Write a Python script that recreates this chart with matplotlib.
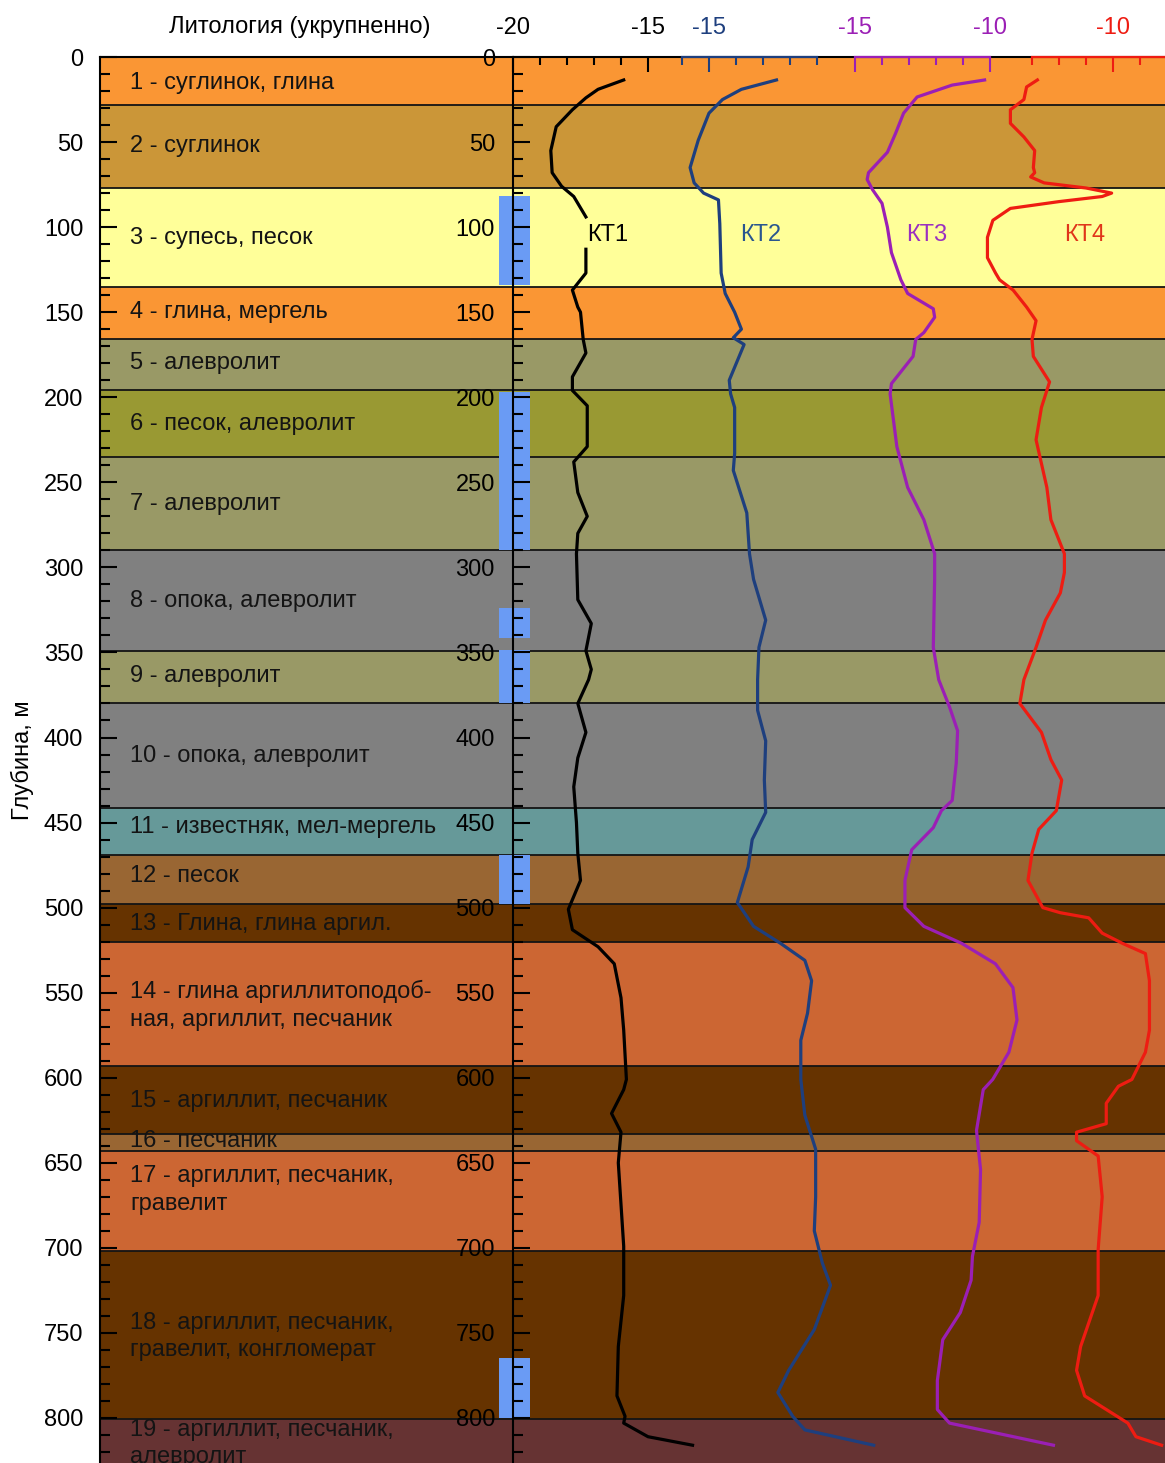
# Литологическая колонка и кривые КТ1-КТ4 по глубине

import numpy as np
import matplotlib.pyplot as plt
from matplotlib.patches import Rectangle
from matplotlib.ticker import MultipleLocator

plt.rcParams['font.family'] = ['Liberation Sans', 'DejaVu Sans']
plt.rcParams['axes.unicode_minus'] = False

# слои: границы (м), цвета и подписи
granitsy = [0, 28, 77, 135, 166, 196, 235, 290, 349, 380, 441.5, 469, 498, 520,
            593, 633, 643, 702, 800.5, 830]
tsveta = ['#FA9634', '#CB9638', '#FFFF99', '#FA9634', '#999966', '#999933',
          '#999966', '#808080', '#999966', '#808080', '#669999', '#996633',
          '#663300', '#CC6633', '#663300', '#996633', '#CC6633', '#663300',
          '#663333']
podpisi = ['1 - суглинок, глина', '2 - суглинок', '3 - супесь, песок',
           '4 - глина, мергель', '5 - алевролит', '6 - песок, алевролит',
           '7 - алевролит', '8 - опока, алевролит', '9 - алевролит',
           '10 - опока, алевролит', '11 - известняк, мел-мергель', '12 - песок',
           '13 - Глина, глина аргил.',
           '14 - глина аргиллитоподоб-\nная, аргиллит, песчаник',
           '15 - аргиллит, песчаник', '16 - песчаник',
           '17 - аргиллит, песчаник,\nгравелит',
           '18 - аргиллит, песчаник,\nгравелит, конгломерат',
           '19 - аргиллит, песчаник,\nалевролит']
glubina_podpisei = [15.5, 52.3, 106.4, 149.9, 179.9, 215.7, 262.7, 319.8, 363.9,
                    410.9, 452.6, 481.5, 509.7, 557.5, 613.6, 637.2, 666, 752, 815]

# интервалы (синие прямоугольники у оси)
filtry_verh = [81.5, 197, 324, 348.6, 469, 765]
filtry_niz = [134, 290, 341.5, 379.7, 498, 800]

# КТ1
kt1_d = [13.5, 19, 24, 31, 41, 55, 68, 76, 82, 94, np.nan, 113, 127, 137, 147, 150,
         166, 174, 188, 196, 205, 229, 238, 256, 270, 280, 292, 319, 333, 349, 360,
         366, 380, 397, 412, 429, 450, 468, 484, 501, 513, 523, 533, 553, 572, 601,
         607, 621, 632, 650, 699, 728, 758, 787, 799, 803, 811, 816]
kt1_v = [-15.9, -16.85, -17.3, -17.8, -18.4, -18.6, -18.55, -18.2, -17.75, -17.3,
         np.nan, -17.3, -17.3, -17.8, -17.6, -17.5, -17.4, -17.3, -17.8, -17.8,
         -17.25, -17.25, -17.75, -17.6, -17.25, -17.6, -17.65, -17.6, -17.1, -17.3,
         -17.1, -17.2, -17.6, -17.3, -17.6, -17.75, -17.65, -17.6, -17.5, -17.95,
         -17.8, -16.85, -16.25, -16.0, -15.9, -15.8, -15.9, -16.35, -16.0, -16.1,
         -15.9, -15.9, -16.1, -16.15, -15.85, -15.9, -15.0, -13.35]

# КТ2
kt2_d = [13.5, 19, 25, 33, 49, 65, 74, 80, 84, 98, 127, 139, 150, 160, 165, 169,
         190, 198, 206, 233, 243, 268, 292, 307, 331, 347, 366, 384, 402, 425, 444,
         460, 476, 497, 511, 521, 531, 543, 562, 578, 601, 622, 642, 670, 690, 709,
         722, 748, 772, 785, 799, 807, 816]
kt2_v = [-12.5, -13.8, -14.5, -15.0, -15.4, -15.7, -15.55, -15.2, -14.65, -14.6,
         -14.55, -14.4, -14.05, -13.8, -14.1, -13.7, -14.25, -14.2, -14.05, -14.05,
         -14.1, -13.6, -13.5, -13.35, -12.9, -13.15, -13.2, -13.2, -12.9, -12.95,
         -12.9, -13.4, -13.55, -13.95, -13.35, -12.35, -11.45, -11.2, -11.35, -11.6,
         -11.6, -11.45, -11.05, -11.05, -11.1, -10.8, -10.5, -11.1, -12.05, -12.45,
         -11.9, -11.45, -8.9]

# КТ3
kt3_d = [13.5, 16.5, 23.5, 33, 45, 56, 68, 72, 78, 86, 100, 115, 131, 139, 148, 153,
         162, 166, 176, 192, 198, 229, 253, 272, 292, 307, 347, 366, 382, 396, 415,
         437, 443, 453, 466, 484, 500, 511, 521, 533, 547, 566, 585, 601, 607, 631,
         654, 685, 705, 719, 738, 754, 778, 795, 803, 816]
kt3_v = [-10.2, -11.4, -12.7, -13.2, -13.5, -13.8, -14.5, -14.55, -14.35, -14.0,
         -13.8, -13.65, -13.3, -13.05, -12.1, -12.05, -12.45, -12.75, -12.85, -13.65,
         -13.7, -13.45, -13.05, -12.45, -12.05, -12.05, -12.1, -11.9, -11.5, -11.2,
         -11.25, -11.4, -11.8, -12.1, -12.9, -13.15, -13.15, -12.45, -11.05, -9.8,
         -9.15, -9.0, -9.3, -9.9, -10.25, -10.5, -10.35, -10.4, -10.65, -10.7,
         -11.1, -11.75, -11.95, -11.95, -11.5, -7.65]

# КТ4
kt4_d = [13.5, 17.6, 25, 31, 39, 47, 55, 65, 68, 70.5, 74, 77, 80, 82, 85, 89, 96,
         106, 118, 127, 131, 137, 147, 155, 166, 176, 191, 206, 225, 253, 272, 292,
         303, 315, 331, 347, 366, 380, 397, 413, 425, 443, 454, 468, 484, 500, 503,
         506, 515, 521, 527, 543, 572, 585, 601, 605, 615, 627, 632, 637, 646, 670,
         701, 728, 758, 772, 787, 803, 811, 816]
kt4_v = [-12.8, -13.2, -13.3, -13.8, -13.8, -13.3, -12.9, -12.95, -12.9, -13.05,
         -12.55, -11.0, -10.05, -10.4, -12.0, -13.8, -14.45, -14.65, -14.65, -14.35,
         -14.2, -13.7, -13.2, -12.85, -13.0, -12.95, -12.35, -12.65, -12.85, -12.45,
         -12.3, -11.8, -11.8, -11.95, -12.5, -12.85, -13.3, -13.45, -12.65, -12.3,
         -11.9, -12.1, -12.75, -13.0, -13.15, -12.6, -11.95, -10.9, -10.4, -9.65,
         -8.8, -8.65, -8.65, -8.8, -9.3, -9.8, -10.25, -10.25, -11.35, -11.35,
         -10.55, -10.4, -10.55, -10.55, -11.2, -11.35, -11.05, -9.45, -9.15, -8.2]

FS = 17
TXT = '#141414'
W, H = 1165, 1463
top_px = 57
ymax = (H - top_px) / 1.70125  # глубина у нижнего края картинки

fig = plt.figure(figsize=(W / 100, H / 100), dpi=100)
ax_l = fig.add_axes([100 / W, 0, 413 / W, (H - top_px) / H])
ax_r = fig.add_axes([513 / W, 0, 652 / W, (H - top_px) / H])


def sloi(ax):
    for verh, niz, c in zip(granitsy[:-1], granitsy[1:], tsveta):
        ax.axhspan(verh, niz, color=c, lw=0, zorder=0.5)
    for g in granitsy[1:-1]:
        ax.axhline(g, color=TXT, lw=1.3, zorder=1)
    ax.set_ylim(ymax, 0)
    ax.yaxis.set_major_locator(MultipleLocator(50))
    ax.yaxis.set_minor_locator(MultipleLocator(10))
    ax.spines['bottom'].set_visible(False)
    ax.spines['right'].set_visible(False)
    for s in ['top', 'left']:
        ax.spines[s].set_linewidth(1.5)


# левая панель - литология
sloi(ax_l)
ax_l.set_xlim(0, 1)
ax_l.set_xticks([])
ax_l.tick_params(axis='y', which='major', direction='in', length=12, width=1.5,
                 pad=12, labelsize=FS)
ax_l.tick_params(axis='y', which='minor', direction='in', length=7, width=1.5)
ax_l.set_ylabel('Глубина, м', fontsize=FS, labelpad=7)
for d, t in zip(glubina_podpisei, podpisi):
    ax_l.text(30 / 413, d, t, ha='left', va='center', fontsize=FS, color=TXT,
              linespacing=1.3, zorder=3)
fig.text(300 / W, 1 - 27 / H, 'Литология (укрупненно)', ha='center', va='center',
         fontsize=FS)

# правая панель - кривые, у каждой своя шкала (27 px на единицу)
sloi(ax_r)
shag = 652 / 27


def os_krivoi(levo, cvet, major, minor, granica):
    t = ax_r.twiny()
    t.set_xlim(levo, levo + shag)
    for s in ['left', 'right', 'bottom']:
        t.spines[s].set_visible(False)
    t.spines['top'].set_bounds(*granica)
    t.spines['top'].set_color(cvet)
    t.spines['top'].set_linewidth(1.6)
    t.set_xticks(major)
    t.set_xticks(minor, minor=True)
    t.tick_params(axis='x', which='major', direction='in', length=11, width=1.5,
                  color=cvet, labelcolor=cvet, pad=13, labelsize=FS)
    t.tick_params(axis='x', which='minor', direction='in', length=6, width=1.5,
                  color=cvet)
    return t


c2, c3, c4 = '#1E3F7E', '#9B1FB5', '#EE1C12'
ax2 = os_krivoi(-15 - 196 / 27, c2, [-15], [-16, -14, -13, -12, -11], (-16, -11))
ax3 = os_krivoi(-15 - 342 / 27, c3, [-15, -10], [-14, -13, -12, -11], (-15, -10))
ax4 = os_krivoi(-10 - 600 / 27, c4, [-10], [-13, -12, -11, -9], (-13, -8))

ax_r.xaxis.tick_top()
ax_r.set_xlim(-20, -20 + shag)
ax_r.set_xticks([-20, -15])
ax_r.set_xticks([-19, -18, -17, -16], minor=True)
ax_r.tick_params(axis='x', which='major', direction='in', length=11, width=1.5,
                 pad=13, labelsize=FS)
ax_r.tick_params(axis='x', which='minor', direction='in', length=6, width=1.5)
ax_r.tick_params(axis='y', which='major', direction='in', length=12, width=1.5,
                 pad=13, labelsize=FS)
ax_r.tick_params(axis='y', which='minor', direction='in', length=7, width=1.5)

# синие интервалы на оси
for verh, niz in zip(filtry_verh, filtry_niz):
    ax_r.add_patch(Rectangle((-14 / 652, verh), 31 / 652, niz - verh,
                             transform=ax_r.get_yaxis_transform(), color='#6A9BF4',
                             lw=0, clip_on=False, zorder=1.5))

ax_r.plot(kt1_v, kt1_d, color='black', lw=2.3)
ax2.plot(kt2_v, kt2_d, color=c2, lw=2.3)
ax3.plot(kt3_v, kt3_d, color=c3, lw=2.3)
ax4.plot(kt4_v, kt4_d, color=c4, lw=2.3)

ax_r.text(-16.5, 104.6, 'КТ1', color='black', fontsize=FS, ha='center', va='center')
ax2.text(-13.1, 104.6, 'КТ2', color='#2A568F', fontsize=FS, ha='center', va='center')
ax3.text(-12.35, 104.6, 'КТ3', color='#9B30C0', fontsize=FS, ha='center', va='center')
ax4.text(-11.05, 104.6, 'КТ4', color='#E0361A', fontsize=FS, ha='center', va='center')

fig.savefig('out.png', dpi=100)
